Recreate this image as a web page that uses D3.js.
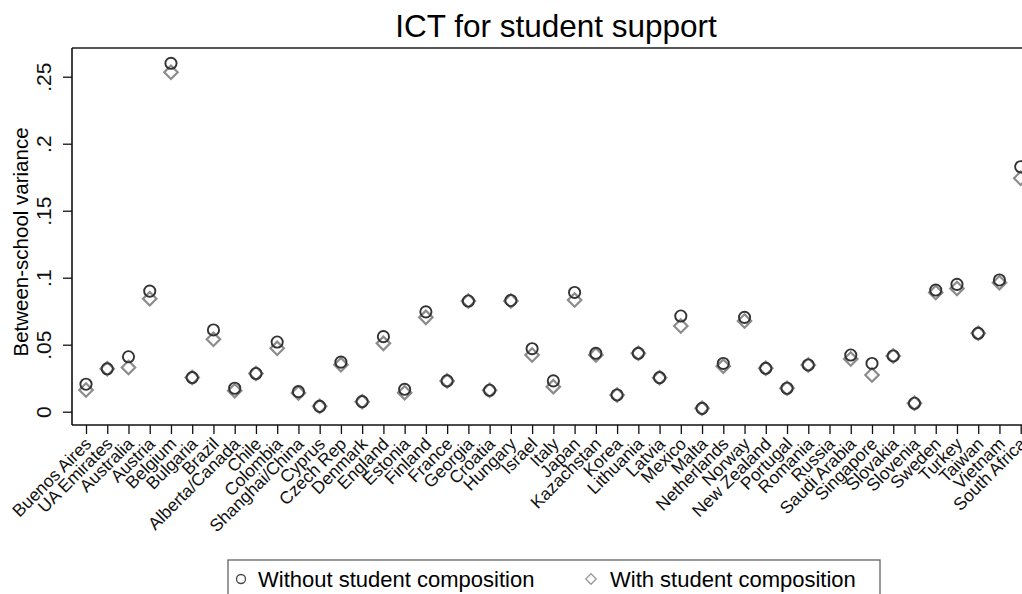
<!DOCTYPE html>
<html>
<head>
<meta charset="utf-8">
<script src="https://cdn.jsdelivr.net/npm/d3@7"></script>
<style>
  body { margin: 0; background: #fff; }
  svg { display: block; font-family: "Liberation Sans", Arial, sans-serif; }
</style>
</head>
<body>
<div id="chart"></div>
<script>
const w = 1022;
const h = 594;

const countries = ["Buenos Aires", "UA Emirates", "Australia", "Austria", "Belgium", "Bulgaria", "Brazil",
  "Alberta/Canada", "Chile", "Colombia", "Shanghai/China", "Cyprus", "Czech Rep", "Denmark", "England",
  "Estonia", "Finland", "France", "Georgia", "Croatia", "Hungary", "Israel", "Italy", "Japan", "Kazachstan",
  "Korea", "Lithuania", "Latvia", "Mexico", "Malta", "Netherlands", "Norway", "New Zealand", "Portugal",
  "Romania", "Russia", "Saudi Arabia", "Singapore", "Slovakia", "Slovenia", "Sweden", "Turkey", "Taiwan",
  "Vietnam", "South Africa"];

// without student composition (circles)
const withoutComp = [0.0205, 0.032, 0.041, 0.090, 0.260, 0.0255, 0.061, 0.0175, 0.0285, 0.052, 0.015,
  0.004, 0.037, 0.0075, 0.056, 0.0167, 0.0745, 0.023, 0.0826, 0.016, 0.083, 0.047, 0.023, 0.089, 0.0436,
  0.0125, 0.0436, 0.0254, 0.0714, 0.0025, 0.036, 0.0704, 0.0324, 0.0175, 0.0349, null, 0.0423, 0.036,
  0.0416, 0.0063, 0.0908, 0.095, 0.0585, 0.0983, 0.1828];

// with student composition (diamonds)
const withComp = [0.0162, 0.032, 0.033, 0.0843, 0.2533, 0.0255, 0.054, 0.0157, 0.0285, 0.0473, 0.014,
  0.004, 0.035, 0.0075, 0.051, 0.0142, 0.0704, 0.023, 0.0826, 0.016, 0.0826, 0.0423, 0.0187, 0.0834, 0.0423,
  0.0125, 0.0436, 0.0254, 0.064, 0.0025, 0.034, 0.0677, 0.0324, 0.0175, 0.0349, null, 0.0393, 0.0274,
  0.0416, 0.0063, 0.089, 0.092, 0.0585, 0.0963, 0.1742];

const yTicks = [0, 0.05, 0.1, 0.15, 0.2, 0.25];
const yTickLabels = ["0", ".05", ".1", ".15", ".2", ".25"];

const svg = d3.select("#chart").append("svg")
  .attr("width", w)
  .attr("height", h);

const plotLeft = 72, plotTop = 48, plotBottom = 425;

const x = d3.scaleLinear().domain([0, countries.length - 1]).range([86, 1020.7]);
const y = d3.scaleLinear().domain([0, 0.25]).range([411.7, 76.7]);

// title
svg.append("text")
  .attr("x", 556).attr("y", 37)
  .attr("text-anchor", "middle")
  .attr("font-size", 31.5)
  .text("ICT for student support");

// plot frame top
svg.append("line").attr("x1", plotLeft).attr("x2", w + 5).attr("y1", plotTop).attr("y2", plotTop)
  .attr("stroke", "#555").attr("stroke-width", 2);

// y axis
const yAxis = d3.axisLeft(y).tickValues(yTicks).tickFormat((d, i) => yTickLabels[i]).tickSize(9);
const gy = svg.append("g").attr("transform", `translate(${plotLeft},0)`).call(yAxis);
gy.select(".domain").attr("d", `M0,${plotTop}V${plotBottom}`).attr("stroke", "#111").attr("stroke-width", 1.6);
gy.selectAll(".tick line").attr("stroke", "#111").attr("stroke-width", 1.3);
gy.selectAll(".tick text")
  .attr("font-size", 21).attr("fill", "#111")
  .attr("text-anchor", "middle")
  .attr("transform", "rotate(-90)")
  .attr("x", 0).attr("y", -21)
  .attr("dy", 0);

svg.append("text")
  .attr("transform", "translate(28,242) rotate(-90)")
  .attr("text-anchor", "middle")
  .attr("font-size", 20.5)
  .text("Between-school variance");

// x axis
const xAxis = d3.axisBottom(x).tickValues(d3.range(countries.length))
  .tickFormat(i => countries[i]).tickSize(9);
const gx = svg.append("g").attr("transform", `translate(0,${plotBottom})`).call(xAxis);
gx.select(".domain").attr("d", `M${plotLeft},0H${w + 5}`).attr("stroke", "#111").attr("stroke-width", 1.6);
gx.selectAll(".tick line").attr("stroke", "#111").attr("stroke-width", 1.3);
gx.selectAll(".tick text")
  .attr("font-size", 17.5).attr("fill", "#111")
  .attr("text-anchor", "end")
  .attr("dy", 0)
  .attr("transform", "translate(6,20) rotate(-45)")
  .attr("y", 0).attr("x", 0);

// points
const diamond = d3.symbol().type(d3.symbolDiamond2).size(115);

svg.append("g").selectAll("path")
  .data(withComp.map((v, i) => [i, v]).filter(d => d[1] != null))
  .join("path")
  .attr("d", diamond)
  .attr("transform", d => `translate(${x(d[0])},${y(d[1])})`)
  .attr("fill", "none")
  .attr("stroke", "#8c8c8c")
  .attr("stroke-width", 2.2);

svg.append("g").selectAll("circle")
  .data(withoutComp.map((v, i) => [i, v]).filter(d => d[1] != null))
  .join("circle")
  .attr("cx", d => x(d[0]))
  .attr("cy", d => y(d[1]))
  .attr("r", 5.6)
  .attr("fill", "none")
  .attr("stroke", "#333")
  .attr("stroke-width", 1.9);

// legend
const lg = svg.append("g");
lg.append("rect").attr("x", 228).attr("y", 560).attr("width", 652).attr("height", 50)
  .attr("fill", "none").attr("stroke", "#555").attr("stroke-width", 1.2);
lg.append("circle").attr("cx", 241).attr("cy", 579).attr("r", 4.5)
  .attr("fill", "none").attr("stroke", "#444").attr("stroke-width", 1.3);
lg.append("text").attr("x", 258).attr("y", 587).attr("font-size", 22).text("Without student composition");
lg.append("path").attr("d", d3.symbol().type(d3.symbolDiamond2).size(70))
  .attr("transform", "translate(591,579)")
  .attr("fill", "none").attr("stroke", "#999").attr("stroke-width", 1.3);
lg.append("text").attr("x", 610).attr("y", 587).attr("font-size", 22).text("With student composition");
</script>
</body>
</html>
